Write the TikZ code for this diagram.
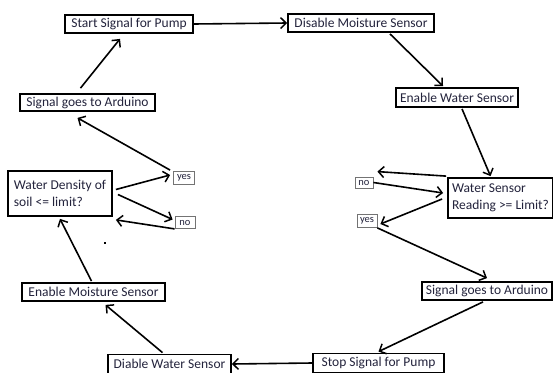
\documentclass[tikz,border=0pt]{standalone}
\usepackage{fontspec}
\setmainfont{Carlito}
\usetikzlibrary{arrows.meta,calc}
\definecolor{txt}{RGB}{35,35,60}
\begin{document}
\begin{tikzpicture}[x=1pt,y=-1pt,
  box/.style={draw=black,line width=1.8pt,fill=white,inner sep=0pt,font=\fontsize{13.5}{17}\selectfont,text=txt},
  lbl/.style={draw=black!55,line width=0.8pt,fill=white,inner sep=0pt,font=\fontsize{10.5}{12}\selectfont,text=txt},
  conn/.style={line width=1.6pt,-{Straight Barb[length=5.5pt,width=11pt,line width=1.5pt]}}]
\useasboundingbox[fill=white] (0,0) rectangle (553,372);
\node[box,minimum width=128pt,minimum height=18pt] (start) at (129,24) {Start Signal for Pump};
\node[box,minimum width=146pt,minimum height=18pt] (dis) at (361,23) {Disable Moisture Sensor};
\node[box,minimum width=122pt,minimum height=19pt] (ews) at (457,97.5) {Enable Water Sensor};
\node[box,minimum width=135pt,minimum height=17pt] (sgaL) at (87.5,102.5) {Signal goes to Arduino};
\node[box,minimum width=104pt,minimum height=45pt,align=left] (wd) at (60,193.5) {Water Density of\\soil <= limit?};
\node[lbl,minimum width=21pt,minimum height=13pt] (yesL) at (184,178) {yes};
\node[lbl,minimum width=20pt,minimum height=12pt] (noL) at (185,222.5) {no};
\node[box,minimum width=105pt,minimum height=40pt,align=left] (wsr) at (500.5,198) {Water Sensor\\Reading >= Limit?};
\node[lbl,minimum width=18pt,minimum height=11pt] (noR) at (364,182.5) {no};
\node[lbl,minimum width=20pt,minimum height=13pt] (yesR) at (367,221) {yes};
\node[box,minimum width=143pt,minimum height=18pt] (ems) at (93.5,292) {Enable Moisture Sensor};
\node[box,minimum width=123pt,minimum height=19pt] (dws) at (169.5,364) {Diable Water Sensor};
\node[box,minimum width=130pt,minimum height=18pt] (sgaR) at (487,291) {Signal goes to Arduino};
\node[box,minimum width=131pt,minimum height=19pt] (stop) at (378.5,363) {Stop Signal for Pump};
\fill (104,242) rectangle (106,244);
\draw[conn] (start.east) -- (dis.west);
\draw[conn] ($(dis.south)+(29,1)$) -- ($(ews.north)+(-14,-1)$);
\draw[conn] ($(ews.south)+(5,1)$) -- ($(wsr.north)+(-10,-1)$);
\draw[conn] ($(wsr.north west)+(-1,-1)$) -- ($(noR.north east)+(4,-5)$);
\draw[conn] (noR.east) -- ($(wsr.west)+(-4,-5)$);
\draw[conn] ($(wsr.west)+(-5,1)$) -- ($(yesR.east)+(3,3)$);
\draw[conn] (yesR.south east) -- ($(sgaR.north)+(0,-3)$);
\draw[conn] ($(sgaR.south)+(-4,1)$) -- ($(stop.north)+(0,-1)$);
\draw[conn] (stop.west) -- (dws.east);
\draw[conn] ($(dws.north)+(-7,-1)$) -- ($(ems.south)+(12,3)$);
\draw[conn] ($(ems.north)+(-2,-1)$) -- ($(wd.south)+(0,2)$);
\draw[conn] ($(wd.east)+(3,-4)$) -- ($(yesL.west)+(-3,-3)$);
\draw[conn] ($(wd.east)+(5,1)$) -- ($(noL.west)+(-2,-3)$);
\draw[conn] (noL.south west) -- ($(wd.south east)+(3,3)$);
\draw[conn] ($(yesL.north west)+(-3,-1)$) -- ($(sgaL.south)+(-10,6)$);
\draw[conn] ($(sgaL.north)+(-7,-5)$) -- ($(start.south)+(-9,5)$);
\end{tikzpicture}
\end{document}
